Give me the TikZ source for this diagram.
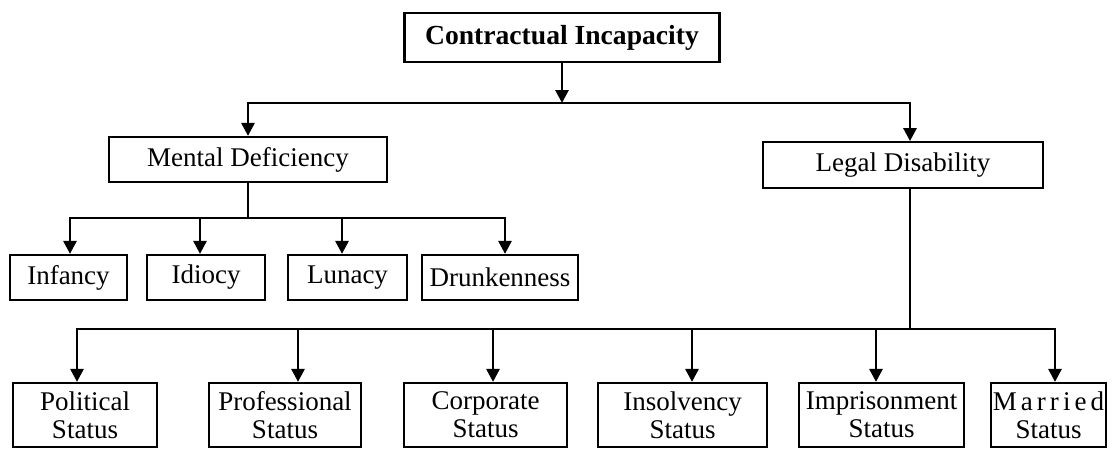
\documentclass[tikz,border=0pt]{standalone}
\usepackage{fontspec}
\setmainfont{Liberation Serif}
\usetikzlibrary{arrows.meta}

\tikzset{
  box/.style={draw, line width=1.1pt, inner sep=0pt, align=center,
    font=\fontsize{13.5}{14}\selectfont},
  smallbox/.style={box, minimum width=#1, minimum height=22.5pt},
  statbox/.style={box, minimum width=#1, minimum height=32pt},
  link/.style={line width=1.4pt},
  arr/.style={link, -{Triangle[width=6.5pt,length=6.5pt]}},
}

\begin{document}
\begin{tikzpicture}[x=0.5pt,y=-0.5pt]
    \useasboundingbox (0,0) rectangle (1112,450);

    % top
    \node[box, line width=1.4pt, minimum width=157.5pt, minimum height=24.5pt,
      font=\fontsize{13.8}{14}\selectfont\bfseries] (ci) at (562,37.5) {Contractual Incapacity};

    % second level
    \node[box, minimum width=139pt, minimum height=22.5pt] (md) at (248,159.5) {Mental Deficiency};
    \node[box, line width=0.9pt, minimum width=140pt, minimum height=23pt] (ld) at (903,165) {Legal Disability};

    % mental deficiency
    \node[smallbox=58.5pt] (inf) at (68.5,277.5) {Infancy};
    \node[smallbox=59pt] (idi) at (206,277.5) {Idiocy};
    \node[smallbox=59.5pt] (lun) at (347.5,277.5) {Lunacy};
    \node[smallbox=78pt] (dru) at (500,277.5) {Drunkenness};

    % legal disability
    \node[statbox=72pt] (pol) at (85,415) {Political\\Status};
    \node[statbox=76pt] (pro) at (285,415) {Professional\\Status};
    \node[statbox=81.5pt] (cor) at (485.5,415) {Corporate\\Status};
    \node[statbox=84.5pt] (ins) at (682.5,415) {Insolvency\\Status};
    \node[statbox=82.5pt] (imp) at (881.5,415) {Imprisonment\\Status};
    \node[statbox=57.5pt] (mar) at (1048.5,415) {{\addfontfeature{LetterSpace=15}Married}\\Status};

    \coordinate (bus1) at (0,103);
    \coordinate (bus2) at (0,218);
    \coordinate (bus3) at (0,329);
    \coordinate (ldin) at ([xshift=3.5pt]ld.north);
    \coordinate (ldout) at ([xshift=3.5pt]ld.south);

    \draw[arr] (ci.south) -- (ci.south |- bus1);
    \draw[arr] (ci.south |- bus1) -| (md.north);
    \draw[arr] (ci.south |- bus1) -| (ldin);

    \draw[link] (md.south) -- (md.south |- bus2);
    \foreach \n/\s in {inf/0.75pt, idi/-3pt, lun/-2.75pt, dru/2.5pt}
      \draw[arr] (md.south |- bus2) -| ([xshift=\s]\n.north);

    \draw[link] (ldout) -- (ldout |- bus3);
    \foreach \n/\s in {pol/-4pt, pro/6.5pt, cor/3.75pt, ins/4.75pt, imp/-2.75pt, mar/3.25pt}
      \draw[arr] (ldout |- bus3) -| ([xshift=\s]\n.north);
\end{tikzpicture}
\end{document}
